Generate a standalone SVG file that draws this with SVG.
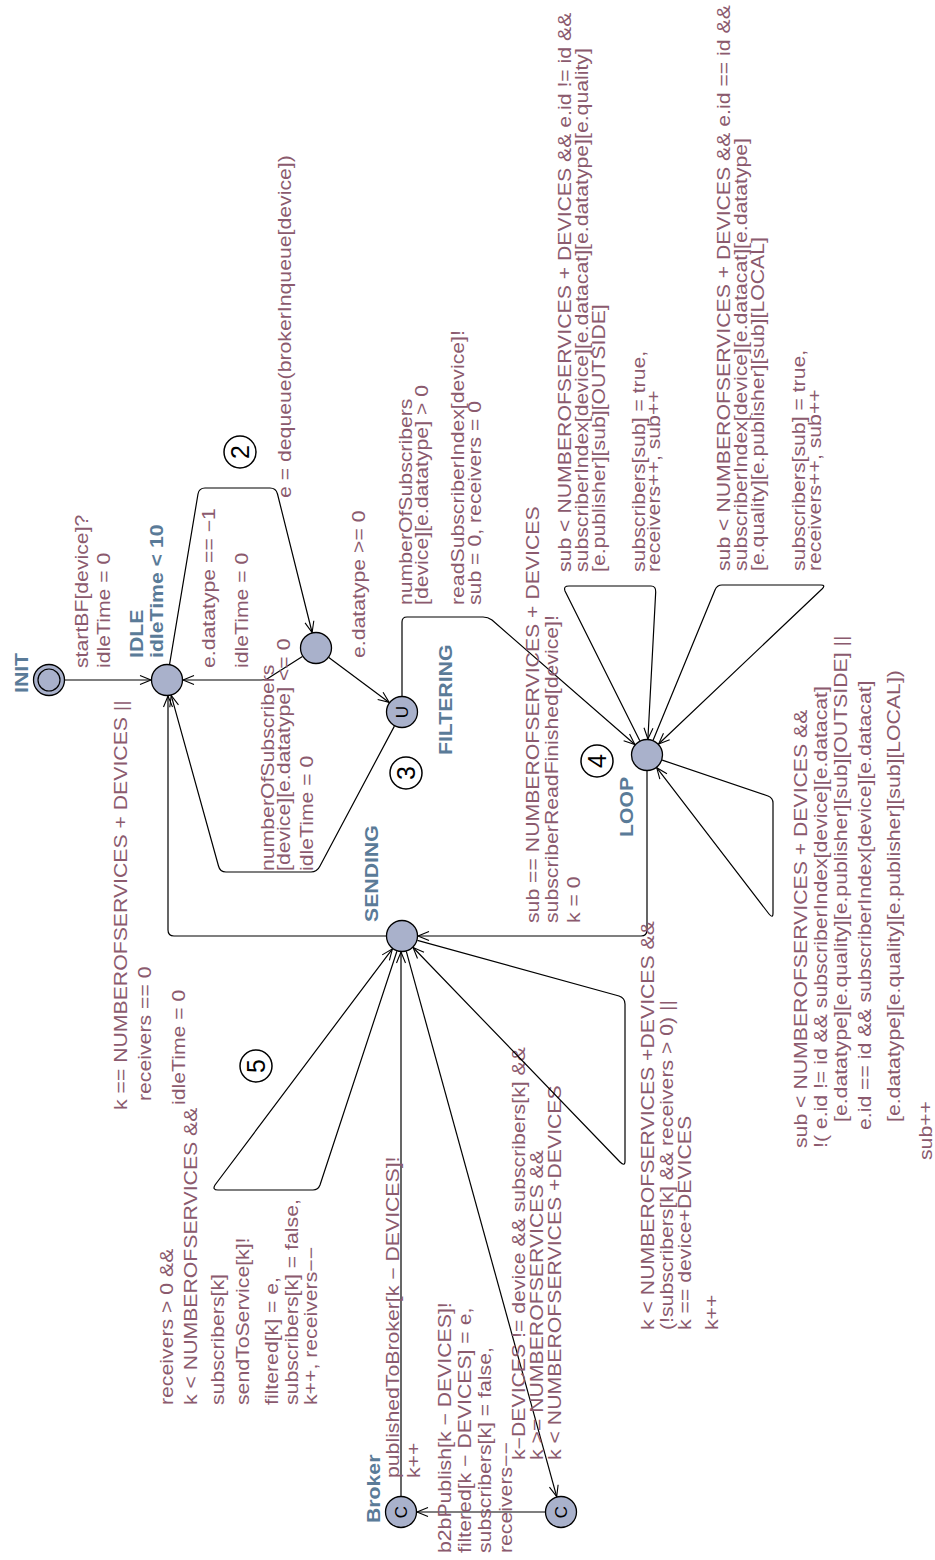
<svg xmlns="http://www.w3.org/2000/svg" width="935" height="1560" viewBox="0 0 935 1560">
  <style>
    .lbl { font-family: "Liberation Sans", Arial, sans-serif; font-size: 18px; fill: #8b5a6e; }
    .nm { font-family: "Liberation Sans", Arial, sans-serif; font-size: 18px; font-weight: bold; fill: #5a7b98; }
    .loc { fill: #a9b1cb; stroke: #000; stroke-width: 1.3; }
    .mark { font-family: "Liberation Sans", Arial, sans-serif; font-size: 17px; fill: #000; }
    .edge { fill: none; stroke: #000; stroke-width: 1.2; }
    .arr { marker-end: url(#arrow); }
    .num circle { fill: #fff; stroke: #000; stroke-width: 1.5; }
    .num text { font-family: "Liberation Sans", Arial, sans-serif; font-size: 25px; fill: #000; }
  </style>
  <defs>
    <marker id="arrow" viewBox="-12 -6 14 12" refX="0" refY="0" markerWidth="14" markerHeight="12" markerUnits="userSpaceOnUse" orient="auto">
      <path d="M-11,-4.5 L0,0 L-11,4.5" fill="none" stroke="#000" stroke-width="1.1"/>
    </marker>
  </defs>
  <rect width="935" height="1560" fill="#fff"/>

  <!-- connectors (transitions) with their labels -->
  <g id="connectors">
    <g id="e-init-idle">
      <path class="edge arr" d="M64,680 L151,680"/>
      <text class="lbl" transform="translate(88,668) rotate(-90) scale(1.18,1)"><tspan x="0" y="0">startBF[device]?</tspan><tspan x="0" y="22">idleTime = 0</tspan></text>
    </g>
    <g id="e-idle-deq">
      <path class="edge arr" d="M169.6,664.2 L198,494 Q199,488 205,488 L270,488 Q276,488 277.5,494 L312.1,632.5"/>
      <text class="lbl" transform="translate(291,498) rotate(-90) scale(1.18,1)">e = dequeue(brokerInqueue[device])</text>
    </g>
    <g id="e-deq-idle">
      <path class="edge arr" d="M302.4,656.5 L267,679 Q265,680 261,680 L183,680"/>
      <text class="lbl" transform="translate(215,668) rotate(-90) scale(1.18,1)"><tspan x="0" y="0">e.datatype == −1</tspan><tspan x="0" y="33">idleTime = 0</tspan></text>
    </g>
    <g id="e-deq-filtering">
      <path class="edge arr" d="M328.8,657.6 L389.2,702.4"/>
      <text class="lbl" transform="translate(365,658) rotate(-90) scale(1.18,1)">e.datatype &gt;= 0</text>
    </g>
    <g id="e-filtering-idle">
      <path class="edge arr" d="M394.4,726.1 L320,866 Q317,872 311,872 L226,872 Q220,872 218.5,866 L171.2,695.4"/>
      <text class="lbl" transform="translate(274,871) rotate(-90) scale(1.18,1)"><tspan x="0" y="0">numberOfSubscribers</tspan><tspan x="0" y="16">[device][e.datatype] &lt;= 0</tspan><tspan x="0" y="39">idleTime = 0</tspan></text>
    </g>
    <g id="e-filtering-loop">
      <path class="edge arr" d="M402,696 L402,622 Q402,617 407,617 L483,617 Q488,617 492,620 L634.9,744.5"/>
      <text class="lbl" transform="translate(412,605) rotate(-90) scale(1.18,1)"><tspan x="0" y="0">numberOfSubscribers</tspan><tspan x="0" y="16">[device][e.datatype] &gt; 0</tspan><tspan x="0" y="52">readSubscriberIndex[device]!</tspan><tspan x="0" y="69">sub = 0, receivers = 0</tspan></text>
    </g>
    <g id="e-loop-sending">
      <path class="edge arr" d="M647,771 L647,930 Q647,936 641,936 L418,936"/>
      <text class="lbl" transform="translate(539,923) rotate(-90) scale(1.18,1)"><tspan x="0" y="0">sub == NUMBEROFSERVICES + DEVICES</tspan><tspan x="0" y="19">subscriberReadFinished[device]!</tspan><tspan x="0" y="41">k = 0</tspan></text>
    </g>
    <g id="e-loop-outside">
      <path class="edge arr" d="M639.8,740.7 L565,591 Q563,586 569,586 L651,586 Q656,586 655.7,592 L647.9,739"/>
      <text class="lbl" transform="translate(571,572) rotate(-90) scale(1.18,1)"><tspan x="0" y="0">sub &lt; NUMBEROFSERVICES + DEVICES &amp;&amp; e.id != id &amp;&amp;</tspan><tspan x="0" y="17">subscriberIndex[device][e.datacat][e.datatype][e.quality]</tspan><tspan x="0" y="34">[e.publisher][sub][OUTSIDE]</tspan><tspan x="0" y="74">subscribers[sub] = true,</tspan><tspan x="0" y="89">receivers++, sub++</tspan></text>
    </g>
    <g id="e-loop-local">
      <path class="edge arr" d="M653.1,740.2 L715,590 Q717,585 722,585 L821,585 Q826,585 822,589 L658.6,744"/>
      <text class="lbl" transform="translate(730,571) rotate(-90) scale(1.18,1)"><tspan x="0" y="0">sub &lt; NUMBEROFSERVICES + DEVICES &amp;&amp; e.id == id &amp;&amp;</tspan><tspan x="0" y="17">subscriberIndex[device][e.datacat][e.datatype]</tspan><tspan x="0" y="34">[e.quality][e.publisher][sub][LOCAL]</tspan><tspan x="0" y="75">subscribers[sub] = true,</tspan><tspan x="0" y="91">receivers++, sub++</tspan></text>
    </g>
    <g id="e-loop-skip">
      <path class="edge arr" d="M662.2,760.1 L768,796 Q773,798 773,803 L773,913 Q773,919 769,914 L656.7,767.7"/>
      <text class="lbl" transform="translate(807,1148) rotate(-90) scale(1.18,1)">sub &lt; NUMBEROFSERVICES + DEVICES &amp;&amp;</text>
      <text class="lbl" transform="translate(827,1148) rotate(-90) scale(1.18,1)">!( e.id != id &amp;&amp; subscriberIndex[device][e.datacat]</text>
      <text class="lbl" transform="translate(847,1122) rotate(-90) scale(1.18,1)">[e.datatype][e.quality][e.publisher][sub][OUTSIDE] ||</text>
      <text class="lbl" transform="translate(871,1130) rotate(-90) scale(1.18,1)">e.id == id &amp;&amp; subscriberIndex[device][e.datacat]</text>
      <text class="lbl" transform="translate(900,1122) rotate(-90) scale(1.18,1)">[e.datatype][e.quality][e.publisher][sub][LOCAL])</text>
      <text class="lbl" transform="translate(932,1160) rotate(-90) scale(1.18,1)">sub++</text>
    </g>
    <g id="e-sending-idle">
      <path class="edge arr" d="M386,936 L174,936 Q168,936 168,930 L168,696"/>
      <text class="lbl" transform="translate(127,1110) rotate(-90) scale(1.18,1)">k == NUMBEROFSERVICES + DEVICES ||</text>
      <text class="lbl" transform="translate(151,1101) rotate(-90) scale(1.18,1)">receivers == 0</text>
      <text class="lbl" transform="translate(185,1105) rotate(-90) scale(1.18,1)">idleTime = 0</text>
    </g>
    <g id="e-sending-service">
      <path class="edge arr" d="M396.9,951.2 L320,1185 Q318,1190 313,1190 L218,1190 Q212,1190 215,1185 L392.4,948.8"/>
      <text class="lbl" transform="translate(173,1405) rotate(-90) scale(1.18,1)"><tspan x="0" y="0">receivers &gt; 0 &amp;&amp;</tspan><tspan x="0" y="24">k &lt; NUMBEROFSERVICES &amp;&amp;</tspan><tspan x="0" y="51">subscribers[k]</tspan><tspan x="0" y="76">sendToService[k]!</tspan><tspan x="0" y="105">filtered[k] = e,</tspan><tspan x="0" y="125">subscribers[k] = false,</tspan><tspan x="0" y="144">k++, receivers−−</tspan></text>
    </g>
    <g id="e-broker-sending">
      <path class="edge arr" d="M401,1496 L401,952"/>
      <text class="lbl" transform="translate(399,1478) rotate(-90) scale(1.18,1)"><tspan x="0" y="0">publishedToBroker[k − DEVICES]!</tspan><tspan x="0" y="21">k++</tspan></text>
    </g>
    <g id="e-sending-b2b">
      <path class="edge arr" d="M406.3,951.4 L556.7,1496.6"/>
      <text class="lbl" transform="translate(525,1460) rotate(-90) scale(1.18,1)"><tspan x="0" y="0">k−DEVICES != device &amp;&amp; subscribers[k] &amp;&amp;</tspan><tspan x="0" y="18">k &gt;= NUMBEROFSERVICES &amp;&amp;</tspan><tspan x="0" y="36">k &lt; NUMBEROFSERVICES +DEVICES</tspan></text>
    </g>
    <g id="e-b2b-broker">
      <path class="edge arr" d="M545,1512 L417,1512"/>
      <text class="lbl" transform="translate(451,1553) rotate(-90) scale(1.18,1)"><tspan x="0" y="0">b2bPublish[k − DEVICES]!</tspan><tspan x="0" y="20">filtered[k − DEVICES] = e,</tspan><tspan x="0" y="40">subscribers[k] = false,</tspan><tspan x="0" y="61">receivers−−</tspan></text>
    </g>
    <g id="e-sending-next">
      <path class="edge arr" d="M417.4,940.3 L619,996 Q625,998 625,1004 L625,1161 Q625,1167 620,1162 L413.1,947.5"/>
      <text class="lbl" transform="translate(654,1330) rotate(-90) scale(1.18,1)"><tspan x="0" y="0">k &lt; NUMBEROFSERVICES +DEVICES &amp;&amp;</tspan><tspan x="0" y="19">(!subscribers[k] &amp;&amp; receivers &gt; 0) ||</tspan><tspan x="0" y="37">k == device+DEVICES</tspan><tspan x="0" y="64">k++</tspan></text>
    </g>
  </g>

  <!-- locations -->
  <g id="node-init">
    <circle class="loc" cx="49" cy="680" r="15.5"/>
    <circle cx="49" cy="680" r="11" fill="none" stroke="#000" stroke-width="1.2"/>
    <text class="nm" transform="translate(28,693) rotate(-90) scale(1.18,1)">INIT</text>
  </g>
  <g id="node-idle">
    <circle class="loc" cx="167" cy="680" r="15.5"/>
    <text class="nm" transform="translate(143,658) rotate(-90) scale(1.18,1)"><tspan x="0" y="0">IDLE</tspan><tspan x="0" y="20">idleTime &lt; 10</tspan></text>
  </g>
  <g id="node-dequeued">
    <circle class="loc" cx="316" cy="648" r="15.5"/>
  </g>
  <g id="node-filtering">
    <circle class="loc" cx="402" cy="712" r="15.5"/>
    <text class="mark" transform="translate(402,712) rotate(-90)" text-anchor="middle" dominant-baseline="central">U</text>
    <text class="nm" transform="translate(452,755) rotate(-90) scale(1.18,1)">FILTERING</text>
  </g>
  <g id="node-loop">
    <circle class="loc" cx="647" cy="755" r="15.5"/>
    <text class="nm" transform="translate(633,837) rotate(-90) scale(1.18,1)">LOOP</text>
  </g>
  <g id="node-sending">
    <circle class="loc" cx="402" cy="936" r="15.5"/>
    <text class="nm" transform="translate(378,922) rotate(-90) scale(1.18,1)">SENDING</text>
  </g>
  <g id="node-broker">
    <circle class="loc" cx="401" cy="1512" r="15.5"/>
    <text class="mark" transform="translate(401,1512) rotate(-90)" text-anchor="middle" dominant-baseline="central">C</text>
    <text class="nm" transform="translate(380,1523) rotate(-90) scale(1.18,1)">Broker</text>
  </g>
  <g id="node-b2b">
    <circle class="loc" cx="561" cy="1512" r="15.5"/>
    <text class="mark" transform="translate(561,1512) rotate(-90)" text-anchor="middle" dominant-baseline="central">C</text>
  </g>

  <!-- step markers -->
  <g id="step-2" class="num">
    <circle cx="240" cy="452" r="16"/>
    <text transform="translate(240,452) rotate(-90)" text-anchor="middle" dominant-baseline="central">2</text>
  </g>
  <g id="step-3" class="num">
    <circle cx="406" cy="773" r="16"/>
    <text transform="translate(406,773) rotate(-90)" text-anchor="middle" dominant-baseline="central">3</text>
  </g>
  <g id="step-4" class="num">
    <circle cx="597" cy="761" r="16"/>
    <text transform="translate(597,761) rotate(-90)" text-anchor="middle" dominant-baseline="central">4</text>
  </g>
  <g id="step-5" class="num">
    <circle cx="256" cy="1066" r="16"/>
    <text transform="translate(256,1066) rotate(-90)" text-anchor="middle" dominant-baseline="central">5</text>
  </g>
</svg>
